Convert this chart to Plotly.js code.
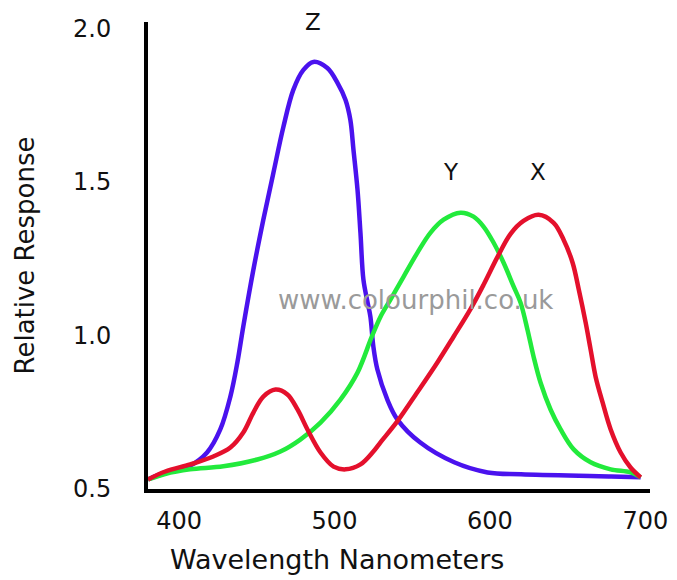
<!DOCTYPE html>
<html>
<head>
<meta charset="utf-8">
<script src="https://cdn.plot.ly/plotly-3.0.1.min.js"></script>
<style>html,body{margin:0;padding:0;background:#fff;}#chart{width:677px;height:580px;}</style>
</head>
<body>
<div id="chart"></div>
<script>
// Wavelength (nm) and relative response
const zWavelength = [380, 391, 407, 418, 426.5, 433, 437.5, 441.3, 447.8, 454.2, 460.7, 467.1, 473.5, 480, 486.4, 495.4, 502, 507.1, 510.2, 512.2, 514.8, 516.7, 518.6, 521.3, 523.1, 525, 527.6, 534, 540.5, 555, 577, 598.5, 620, 678, 697];
const zResponse   = [0.53, 0.553, 0.575, 0.618, 0.693, 0.800, 0.911, 1.028, 1.213, 1.376, 1.529, 1.678, 1.799, 1.864, 1.890, 1.870, 1.821, 1.766, 1.701, 1.604, 1.474, 1.333, 1.181, 1.106, 1.060, 0.963, 0.888, 0.790, 0.725, 0.651, 0.586, 0.553, 0.547, 0.540, 0.537];

const yWavelength = [380, 391, 407, 428.5, 450.4, 465.2, 478, 491, 503.8, 514.8, 524, 529.6, 536, 544.4, 553.4, 561.8, 570.2, 581.1, 589.5, 596, 602.4, 608.8, 615.3, 619.7, 624.2, 628.1, 632.6, 639, 645.5, 653.9, 664.8, 677.7, 690.5, 697];
const yResponse   = [0.53, 0.548, 0.563, 0.573, 0.595, 0.621, 0.660, 0.715, 0.790, 0.878, 0.995, 1.060, 1.116, 1.190, 1.269, 1.334, 1.376, 1.399, 1.386, 1.353, 1.301, 1.236, 1.158, 1.106, 1.017, 0.930, 0.845, 0.758, 0.693, 0.628, 0.586, 0.563, 0.553, 0.537];

const xWavelength = [380, 391.1, 407.2, 422, 433, 441.3, 447.8, 454.2, 462, 469.7, 476.2, 482.6, 491, 499.4, 507.1, 516.7, 525, 529.6, 540.5, 553.4, 566.3, 576.6, 587.5, 596, 604.9, 613.3, 621.6, 631.3, 641, 647.4, 653.2, 657.2, 661.6, 664.8, 668, 672.5, 677.7, 684.1, 690.5, 697];
const xResponse   = [0.53, 0.556, 0.579, 0.605, 0.634, 0.683, 0.748, 0.800, 0.823, 0.807, 0.758, 0.693, 0.618, 0.572, 0.563, 0.579, 0.621, 0.651, 0.720, 0.815, 0.912, 0.995, 1.085, 1.165, 1.255, 1.330, 1.372, 1.392, 1.366, 1.311, 1.236, 1.148, 1.041, 0.953, 0.865, 0.781, 0.693, 0.618, 0.569, 0.537];

const curveNames = ['Z', 'Y', 'X'];
const labelWavelength = [486, 575, 631];
const labelResponse = [2.02, 1.53, 1.53];
const xTicks = [400, 500, 600, 700];
const yTicks = [0.5, 1.0, 1.5, 2.0];
const xTitle = 'Wavelength Nanometers';
const yTitle = 'Relative Response';
const watermark = 'www.colourphil.co.uk';

const FONT = 'DejaVu Sans, sans-serif';
const lineStyle = (c) => ({color: c, width: 4.5, shape: 'spline', smoothing: 1});

const traces = [
  {x: zWavelength, y: zResponse, mode: 'lines', name: curveNames[0], line: lineStyle('#4a12ee')},
  {x: yWavelength, y: yResponse, mode: 'lines', name: curveNames[1], line: lineStyle('#22ea3c')},
  {x: xWavelength, y: xResponse, mode: 'lines', name: curveNames[2], line: lineStyle('#e4102c')}
];

const annotations = curveNames.map((n, i) => ({
  x: labelWavelength[i], y: labelResponse[i], xref: 'x', yref: 'y',
  text: n, showarrow: false, font: {family: FONT, size: 23, color: '#111'}
}));
annotations.push({
  x: 552, y: 1.116, xref: 'x', yref: 'y', text: watermark, showarrow: false,
  font: {family: FONT, size: 26, color: '#9a9a9a'}
});
// x-axis title, placed left of centre as in the reference
annotations.push({
  x: 0.3765, y: -0.150, xref: 'paper', yref: 'paper', xanchor: 'center', yanchor: 'middle',
  text: xTitle, showarrow: false, font: {family: FONT, size: 27, color: '#111'}
});

const layout = {
  width: 677, height: 580,
  margin: {l: 148, r: 27, t: 22, b: 91, pad: 0},
  paper_bgcolor: '#fff', plot_bgcolor: '#fff',
  showlegend: false,
  font: {family: FONT, size: 22, color: '#111'},
  xaxis: {
    range: [380, 703], tickvals: xTicks, ticktext: xTicks.map(String),
    showline: true, linewidth: 4, linecolor: '#000', showgrid: false, zeroline: false,
    ticks: '', ticklabelstandoff: 7, tickfont: {family: FONT, size: 24, color: '#111'}
  },
  yaxis: {
    range: [0.499, 2.02], tickvals: yTicks, ticktext: yTicks.map(v => v.toFixed(1)),
    showline: true, linewidth: 4, linecolor: '#000', showgrid: false, zeroline: false,
    ticks: '', ticklabelstandoff: 28, tickfont: {family: FONT, size: 24, color: '#111'},
    title: {text: yTitle, font: {family: FONT, size: 26, color: '#111'}, standoff: 32}
  },
  annotations: annotations
};

Plotly.newPlot('chart', traces, layout, {displayModeBar: false, staticPlot: true});
</script>
</body>
</html>
